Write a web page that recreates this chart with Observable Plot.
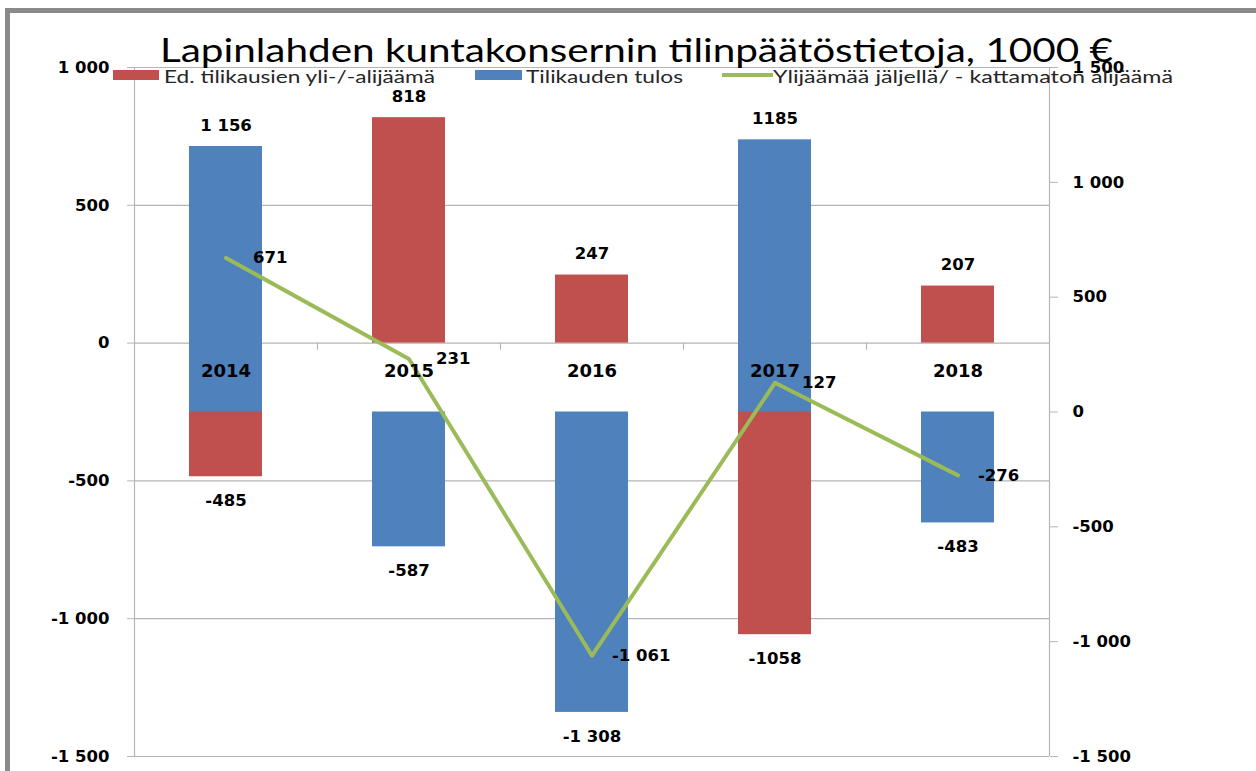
<!DOCTYPE html>
<html>
<head>
<meta charset="utf-8">
<script src="https://cdn.jsdelivr.net/npm/d3@7"></script>
<script src="https://cdn.jsdelivr.net/npm/@observablehq/plot@0.6"></script>
<style>
  body { margin: 0; background: #fff; }
  #wrap { position: relative; width: 1256px; height: 771px; overflow: hidden; background: #fff; }
  #border { position: absolute; left: 5px; top: 8px; width: 1400px; height: 1000px;
            border-left: 5px solid #8a8a8a; border-top: 5px solid #8a8a8a; }
  #chart { position: absolute; left: 0; top: 0; }
  #overlay { position: absolute; left: 0; top: 0; pointer-events: none; }
</style>
</head>
<body>
<div id="wrap">
  <div id="border"></div>
  <div id="chart"></div>
  <svg id="overlay" width="1256" height="771"></svg>
</div>
<script>
// ---- data ----
const years = ["2014", "2015", "2016", "2017", "2018"];
const edellisetTilikaudet = [-485, 818, 247, -1058, 207];          // Ed. tilikausien yli-/-alijäämä (left axis)
const tilikaudenTulos = [1156, -587, -1308, 1185, -483];           // Tilikauden tulos (right axis)
const ylijaamaJaljella = [671, 231, -1061, 127, -276];             // Ylijäämää jäljellä/ - kattamaton alijäämä (right axis)
const edellisetLabels = ["-485", "818", "247", "-1058", "207"];
const tulosLabels = ["1 156", "-587", "-1 308", "1185", "-483"];
const jaljellaLabels = ["671", "231", "-1 061", "127", "-276"];
const leftTicks = [-1500, -1000, -500, 0, 500, 1000];
const rightTicks = [-1500, -1000, -500, 0, 500, 1000, 1500];
const leftDomain = [-1500, 1000];
const rightDomain = [-1500, 1500];
const titleText = "Lapinlahden kuntakonsernin tilinpäätöstietoja, 1000 €";
const seriesNames = ["Ed. tilikausien yli-/-alijäämä", "Tilikauden tulos", "Ylijäämää jäljellä/ - kattamaton alijäämä"];
const colors = ["#c0504d", "#4f81bd", "#9bbb59"];

// ---- helpers ----
const fmt = d3.formatLocale({decimal: ",", thousands: " ", grouping: [3], currency: ["", " €"], minus: "-"}).format(",d");
// secondary axis mapped onto the primary y scale
const sec = d3.scaleLinear().domain(rightDomain).range(leftDomain);

const rows = years.map((year, i) => ({
  year,
  red: edellisetTilikaudet[i], redL: edellisetLabels[i],
  blue: tilikaudenTulos[i], blueL: tulosLabels[i],
  green: ylijaamaJaljella[i], greenL: jaljellaLabels[i]
}));

const gridColor = "#b5b5b5";
const half = 91.5; // half a category step, in px

const chart = Plot.plot({
  width: 1256,
  height: 771,
  marginTop: 67,
  marginBottom: 15,
  marginLeft: 134,
  marginRight: 207,
  style: {fontFamily: "'DejaVu Sans', sans-serif", fontSize: "16.5px", fontWeight: "bold", color: "#000", background: "transparent", overflow: "visible"},
  x: {domain: years, paddingInner: 0.6, paddingOuter: 0.3, axis: null},
  y: {domain: leftDomain, label: null},
  marks: [
    Plot.ruleY(leftTicks, {stroke: gridColor, strokeWidth: 1.2}),
    Plot.ruleX(years.slice(0, 4), {x: d => d, dx: half, y1: () => 0, y2: () => 0, insetBottom: -7, stroke: gridColor, strokeWidth: 1.2}),
    Plot.ruleX([years[0]], {x: d => d, dx: -half, y1: () => leftDomain[0], y2: () => leftDomain[1], stroke: gridColor, strokeWidth: 1.2}),
    Plot.ruleX([years[4]], {x: d => d, dx: half, y1: () => leftDomain[0], y2: () => leftDomain[1], stroke: gridColor, strokeWidth: 1.2}),
    Plot.axisY({anchor: "left", ticks: leftTicks, tickSize: 7, tickPadding: 18, tickFormat: fmt, stroke: gridColor, fill: "#000", label: null}),
    Plot.axisY({anchor: "right", ticks: rightTicks.map(sec), tickSize: 8, tickPadding: 15, tickFormat: d => fmt(Math.round(sec.invert(d))), stroke: gridColor, fill: "#000", label: null}),
    Plot.barY(rows, {x: "year", y: "red", fill: colors[0]}),
    Plot.barY(rows, {x: "year", y1: () => sec(0), y2: d => sec(d.blue), fill: colors[1]}),
    Plot.lineY(rows, {x: "year", y: d => sec(d.green), stroke: colors[2], strokeWidth: 4}),
    // year labels
    Plot.text(years, {x: d => d, y: () => 0, dy: 28, text: d => d, fontSize: 18}),
    // red labels
    Plot.text(rows.filter(d => d.red >= 0), {x: "year", y: "red", text: "redL", dy: -21}),
    Plot.text(rows.filter(d => d.red < 0), {x: "year", y: "red", text: "redL", dy: 24}),
    // blue labels
    Plot.text(rows.filter(d => d.blue >= 0), {x: "year", y: d => sec(d.blue), text: "blueL", dy: -21}),
    Plot.text(rows.filter(d => d.blue < 0), {x: "year", y: d => sec(d.blue), text: "blueL", dy: 24}),
    // line labels
    Plot.text(rows.filter(d => d.green >= 0), {x: "year", y: d => sec(d.green), text: "greenL", textAnchor: "start", dx: 27}),
    Plot.text(rows.filter(d => d.green < 0), {x: "year", y: d => sec(d.green), text: "greenL", textAnchor: "start", dx: 20})
  ]
});
document.getElementById("chart").appendChild(chart);

// ---- title & legend overlay ----
const ov = d3.select("#overlay");
ov.append("text")
  .attr("x", 160).attr("y", 62)
  .attr("font-family", "Lato, 'Open Sans', sans-serif").attr("font-size", 33.5)
  .attr("fill", "#000")
  .attr("textLength", 953).attr("lengthAdjust", "spacingAndGlyphs")
  .text(titleText);

const legend = [
  {sx: 113, sw: 46, tx: 164, tw: 271, kind: "rect"},
  {sx: 475, sw: 47, tx: 526, tw: 157, kind: "rect"},
  {sx: 722, sw: 51, tx: 773, tw: 400, kind: "line"}
];
legend.forEach((l, i) => {
  if (l.kind === "rect") {
    ov.append("rect").attr("x", l.sx).attr("y", 70).attr("width", l.sw).attr("height", 10).attr("fill", colors[i]);
  } else {
    ov.append("line").attr("x1", l.sx).attr("x2", l.sx + l.sw).attr("y1", 75).attr("y2", 75)
      .attr("stroke", colors[i]).attr("stroke-width", 4);
  }
  ov.append("text")
    .attr("x", l.tx).attr("y", 82.5)
    .attr("font-family", "Lato, 'Open Sans', sans-serif").attr("font-size", 18)
    .attr("fill", "#262626")
    .attr("textLength", l.tw).attr("lengthAdjust", "spacingAndGlyphs")
    .text(seriesNames[i]);
});
</script>
</body>
</html>
